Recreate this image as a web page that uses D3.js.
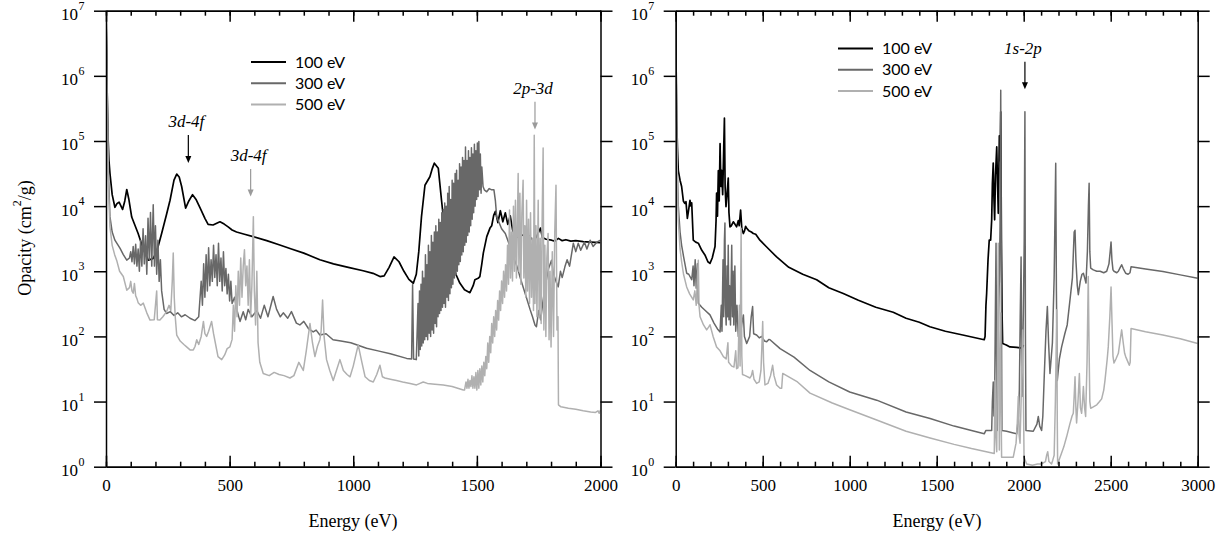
<!doctype html>
<html>
  <head>
    <meta charset="utf-8">
    <title>Opacity vs energy</title>
    <script src="https://cdnjs.cloudflare.com/ajax/libs/d3/7.8.5/d3.min.js"></script>
    <style>
      body { margin: 0; background: #fff; }
      svg { display: block; }
      .tick-label { font-family: "Liberation Serif", "Times New Roman", serif; font-size: 17px; }
      .title { font-family: "Liberation Serif", "Times New Roman", serif; font-size: 18px; }
      .legend { font-family: Lato, "Open Sans", sans-serif; font-size: 16px; }
      .note { font-family: "Liberation Serif", serif; font-style: italic; font-size: 17px; }
    </style>
  </head>
  <body>
    <div id="chart"></div>
    <script>
      // temperatures (legend) and line colours
      const temps = ['100 eV', '300 eV', '500 eV'];
      const colors = ['#000000', '#686868', '#b0b0b0'];

      // axis ticks
      const decades = [1, 1e1, 1e2, 1e3, 1e4, 1e5, 1e6, 1e7];
      const exponents = ['0', '1', '2', '3', '4', '5', '6', '7'];
      const leftMajor = [0, 500, 1000, 1500, 2000];
      const rightMajor = [0, 500, 1000, 1500, 2000, 2500, 3000];

      // ---- left panel, [energy eV, opacity cm2/g] ----
      const left100 = [[0,1e7],[2,3e6],[5,5e5],[8,1.2e5],[12,5e4],[16,3.2e4],[25,1.5e4],[36,9600],[45,1.1e4],[53,1.15e4],[67,8900],[76,1.2e4],[84,1.8e4],[92,1.3e4],[104,6800],[130,3800],[150,2240],[171,1480],[191,1580],[205,2000],[225,3800],[245,7500],[259,1.23e4],[275,2.5e4],[286,3.1e4],[296,2.8e4],[306,2.0e4],[322,9300],[335,1.2e4],[350,1.5e4],[365,1.25e4],[380,9500],[400,6500],[413,5250],[433,5130],[450,5500],[461,5750],[478,5300],[494,4800],[510,4300],[528,4000],[560,3700],[595,3400],[650,2950],[700,2550],[750,2200],[800,1900],[865,1500],[920,1300],[980,1150],[1040,1020],[1080,930],[1108,830],[1125,850],[1145,1150],[1165,1660],[1185,1400],[1205,1000],[1225,750],[1243,655],[1255,900],[1265,2000],[1276,6900],[1290,2.09e4],[1310,2.82e4],[1320,3.8e4],[1328,4.57e4],[1344,3.8e4],[1357,1.23e4],[1371,3900],[1385,2200],[1398,1480],[1415,900],[1431,660],[1450,520],[1472,470],[1485,600],[1492,740],[1505,780],[1512,830],[1520,1300],[1526,1900],[1540,3400],[1553,4600],[1560,5000],[1568,7200],[1575,8300],[1585,5600],[1595,8500],[1605,5750],[1615,7900],[1625,5250],[1635,7100],[1645,4200],[1660,3300],[1675,3500],[1687,3600],[1700,3200],[1712,3450],[1725,3050],[1740,3300],[1757,4600],[1765,3300],[1780,3100],[1802,3000],[1815,2900],[1830,3200],[1845,2950],[1860,3050],[1880,2900],[1900,2950],[1930,2850],[1960,2800],[2000,2750]];

      const left300 = [[0,1e7],[3,2e6],[6,3e5],[10,3e4],[16,6900],[25,4000],[36,3000],[57,2240],[70,1800],[84,1480],[95,1600],[100,2000],[105,1400],[110,2400],[115,1300],[120,2600],[125,1200],[130,2200],[135,1000],[140,3000],[145,1200],[150,4500],[155,1300],[160,3500],[165,900],[170,6500],[175,1500],[180,8000],[185,1200],[191,1.05e4],[196,1200],[200,5000],[205,900],[210,3000],[215,700],[220,1500],[225,500],[235,260],[245,225],[260,240],[275,210],[290,230],[305,200],[320,215],[340,190],[360,175],[375,200],[385,700],[390,300],[395,1300],[400,400],[405,1800],[410,500],[415,2300],[420,600],[425,1500],[430,700],[435,2500],[440,800],[445,1800],[450,600],[455,2700],[460,700],[465,1600],[470,500],[475,2000],[480,600],[485,1100],[490,450],[495,900],[500,350],[505,700],[510,320],[520,400],[530,250],[542,170],[555,240],[565,180],[575,260],[590,200],[610,250],[625,190],[640,300],[655,200],[676,410],[690,260],[705,200],[717,230],[735,190],[750,240],[770,160],[784,150],[800,170],[820,130],[838,117],[850,125],[865,105],[890,110],[918,89],[950,85],[990,80],[1054,66],[1100,60],[1150,54],[1216,46],[1236,45],[1240,620],[1244,45],[1255,44],
        [1262,320],[1265,50],[1268,500],[1271,63],[1274,630],[1277,71],[1280,1000],[1283,79],[1286,790],[1289,89],[1292,1800],[1295,100],[1298,1260],[1301,89],[1304,2500],[1307,112],[1310,2000],[1313,100],[1316,3550],[1319,126],[1322,2800],[1325,112],[1328,4000],[1331,158],[1334,5000],[1337,141],[1340,4000],[1343,200],[1346,6300],[1349,224],[1352,5600],[1355,250],[1358,7900],[1361,280],[1364,8900],[1367,320],[1370,11200],[1373,280],[1376,10000],[1379,400],[1382,15800],[1385,355],[1388,20000],[1391,450],[1394,12600],[1397,560],[1400,25000],[1403,630],[1406,22400],[1409,790],[1412,31600],[1415,890],[1418,35500],[1421,1000],[1424,25000],[1427,1260],[1430,44700],[1433,1410],[1436,40000],[1439,1780],[1442,56000],[1445,2000],[1448,50000],[1451,2500],[1454,81000],[1457,2800],[1460,50000],[1463,3550],[1466,71000],[1469,4000],[1472,56000],[1475,5000],[1478,79000],[1481,6300],[1484,63000],[1487,7900],[1490,89000],[1493,10000],[1496,71000],[1499,12600],[1502,93000],[1505,14100],[1508,98000],[1511,17800],[1514,63000],[1517,15800],[1520,40000],[1525,20000],[1530,17800],[1540,16600],[1550,18600],[1560,17800],[1569,17800],
        [1575,1.2e4],[1580,6900],[1600,4500],[1615,3800],[1634,2400],[1650,1600],[1665,1100],[1675,800],[1687,575],[1700,400],[1715,260],[1725,200],[1735,150],[1741,141],[1750,250],[1758,180],[1768,363],[1780,700],[1790,1100],[1802,1480],[1810,900],[1820,700],[1829,575],[1838,1000],[1845,800],[1856,1170],[1865,1500],[1875,1200],[1890,2690],[1900,2000],[1910,2700],[1920,2100],[1935,2800],[1945,2200],[1958,3000],[1970,2400],[1985,2800],[2000,3000]];

      const left500 = [[0,1e7],[3,1.5e6],[6,2e5],[10,2e4],[16,4800],[25,2500],[35,1800],[43,1480],[55,1000],[70,830],[84,513],[95,560],[100,700],[105,500],[110,460],[115,650],[120,420],[125,380],[130,330],[140,300],[151,324],[165,230],[178,178],[195,180],[205,500],[208,180],[218,178],[230,200],[245,240],[255,300],[262,250],[268,700],[272,1900],[276,400],[280,200],[286,105],[300,85],[315,75],[326,69],[340,62],[353,62],[360,70],[367,89],[375,75],[385,100],[394,170],[400,110],[407,100],[415,120],[427,170],[435,110],[445,70],[453,49],[468,44],[480,52],[490,65],[501,69],[510,90],[515,300],[520,120],[525,600],[530,200],[535,1000],[540,300],[545,1600],[550,400],[555,1200],[560,2140],[565,600],[570,1200],[575,300],[580,1500],[585,200],[590,600],[596,6900],[600,500],[605,150],[610,1000],[615,80],[622,40],[636,27],[660,25],[680,28],[700,26],[720,25],[744,23],[760,25],[780,40],[798,30],[810,60],[825,158],[835,80],[845,49],[855,70],[865,89],[870,120],[876,363],[882,100],[892,44],[905,30],[919,21],[932,30],[946,44],[960,30],[975,26],[987,24],[1000,35],[1020,74],[1035,40],[1048,24],[1065,21],[1081,20],[1095,26],[1108,36],[1118,24],[1128,23],[1150,22],[1175,21],[1200,20],[1230,19],[1256,18],[1270,19],[1283,20],[1300,19],[1330,18.5],[1364,18],[1400,17],[1445,15],
        [1450,15],[1456,20],[1460,16],[1464,22],[1468,16],[1472,21],[1476,17],[1480,25],[1484,16],[1488,24],[1492,16],[1496,28],[1500,15],[1504,30],[1508,16],[1512,32],[1516,18],[1520,35],[1524,20],[1528,40],[1532,25],[1536,49],[1540,32],[1544,79],[1548,40],[1552,100],[1556,56],[1560,158],[1564,79],[1568,200],[1572,100],[1576,250],[1580,126],[1584,355],[1588,178],[1592,500],[1596,250],[1600,710],[1604,320],[1608,1000],[1612,400],[1616,1260],[1620,500],[1624,2500],[1628,630],[1632,8700],[1636,790],[1640,4000],[1644,710],[1648,10000],[1652,1000],[1656,12300],[1660,790],[1664,6300],[1667,31600],[1670,1000],[1674,15800],[1678,630],[1682,7900],[1687,25000],[1690,790],[1694,5000],[1698,400],[1701,12300],[1705,500],[1709,6300],[1713,320],[1717,7900],[1721,400],[1725,3200],[1729,250],[1732,123000],[1735,320],[1739,5000],[1743,200],[1748,12300],[1752,200],[1756,3200],[1760,158],[1764,6300],[1768,78000],[1771,126],[1775,2500],[1779,100],[1783,1600],[1788,3800],[1792,89],[1796,1000],[1800,69],[1805,2000],[1810,100],[1815,4000],[1820,21000],[1824,126],[1828,200],[1830,8.9],[1840,8.3],[1870,7.9],[1900,7.6],[1930,7.2],[1960,6.9],[1980,6.8],[1990,7.2],[1995,6.6],[2000,7.4]];

      // ---- right panel ----
      const right100 = [[0,1e7],[3,1e6],[6,2e5],[10,8e4],[15,3.5e4],[25,2.5e4],[34,2e4],[44,1.2e4],[52,1.1e4],[59,1.17e4],[67,6500],[75,9000],[82,1.23e4],[88,1e4],[92,1.12e4],[101,3000],[115,2800],[130,2700],[150,2100],[168,1780],[185,1400],[197,1320],[210,1600],[226,2400],[232,6000],[235,1.58e4],[240,7000],[245,3.5e4],[250,1.2e4],[255,9.1e4],[260,2e4],[264,3.55e4],[270,1.5e4],[275,6e4],[280,2.24e5],[284,2e4],[289,9800],[295,1.5e4],[302,2.7e4],[306,8000],[312,4800],[320,5000],[331,5750],[340,5300],[350,4800],[360,6000],[365,5000],[373,8700],[380,4500],[389,3800],[396,4200],[402,4900],[408,4570],[420,4200],[435,4000],[446,3800],[460,3700],[484,3000],[520,2400],[580,1660],[650,1150],[730,900],[810,740],[880,560],[963,457],[1050,360],[1150,280],[1250,235],[1324,190],[1400,165],[1461,141],[1550,120],[1650,105],[1773,89],[1778,100],[1783,300],[1787,457],[1795,1500],[1802,3020],[1810,3000],[1816,6170],[1820,2.2e4],[1825,4.57e4],[1829,1.3e4],[1833,6170],[1838,3e4],[1845,8.1e4],[1850,2e4],[1854,7760],[1860,1.2e5],[1865,5e4],[1868,2.8e5],[1872,3000],[1876,200],[1879,78],[1900,74],[1921,69],[1960,68],[1990,66],[1996,70],[1998,74]];

      const right300 = [[0,1e7],[3,1e6],[6,1e5],[10,3e4],[15,1e4],[25,4000],[34,2500],[45,1700],[63,933],[75,900],[92,741],[100,1200],[105,600],[112,1500],[118,550],[125,1300],[130,324],[150,280],[170,250],[197,214],[220,160],[240,130],[255,117],[262,300],[266,120],[272,1500],[276,200],[280,3000],[283,5500],[286,300],[290,150],[295,1200],[298,200],[302,2500],[306,180],[310,600],[315,150],[322,2500],[326,200],[330,1000],[334,150],[340,1200],[345,120],[352,300],[360,100],[370,89],[379,150],[389,214],[395,100],[408,78],[425,100],[434,200],[442,288],[448,110],[465,105],[480,95],[494,100],[510,85],[523,83],[535,90],[542,89],[600,65],[680,48],[772,30],[880,20],[1000,14],[1155,10.5],[1324,6.9],[1462,5.5],[1600,4.2],[1700,3.6],[1773,3.2],[1783,3.6],[1816,3.6],[1820,10],[1825,20],[1829,6],[1833,10.5],[1837,200],[1841,2690],[1844,50],[1848,3.6],[1853,100],[1860,741],[1864,5000],[1868,6e5],[1872,300],[1875,3.6],[1902,3.5],[1940,3.3],[1960,3.2],[1970,6],[1975,15],[1980,200],[1985,1660],[1988,60],[1990,12],[1994,50],[1998,229],[2003,3000],[2007,2.8e5],[2010,100],[2013,3.6],[2055,3.5],[2076,4.5],[2084,5.9],[2092,4.2],[2103,3.6],[2110,6],[2118,24],[2128,120],[2136,288],[2143,80],[2151,27],[2165,80],[2175,800],[2184,4.57e4],[2188,500],[2193,21],[2205,45],[2218,69],[2237,112],[2250,150],[2266,363],[2280,800],[2290,4000],[2295,4270],[2300,1500],[2308,600],[2314,437],[2325,700],[2335,900],[2343,933],[2350,800],[2358,661],[2366,2000],[2372,1e4],[2376,2.24e4],[2380,2000],[2385,1120],[2400,1050],[2420,1000],[2439,1000],[2460,950],[2477,1000],[2490,1300],[2497,2000],[2502,2820],[2507,1500],[2513,1050],[2519,1000],[2535,950],[2544,1000],[2555,1150],[2563,1260],[2572,1100],[2586,933],[2600,900],[2611,950],[2617,1170],[2700,1080],[2800,990],[2900,880],[3000,780]];

      const right500 = [[0,1e7],[3,1.5e6],[6,1.5e5],[10,2e4],[15,6000],[25,2200],[34,1400],[45,900],[63,575],[80,450],[101,363],[110,500],[118,300],[125,800],[130,1480],[134,300],[140,200],[160,150],[178,126],[190,140],[197,151],[215,100],[235,69],[255,60],[274,49],[290,45],[300,80],[304,40],[322,35],[335,34],[345,60],[350,32],[358,33],[366,300],[370,35],[376,4570],[380,50],[384,26],[400,25],[427,23],[435,25],[442,30],[450,22],[465,19],[480,20],[490,30],[496,80],[500,170],[505,40],[513,18],[530,19],[545,25],[557,36],[565,25],[580,18],[600,16],[609,16],[615,27],[700,20],[772,13.5],[900,9.5],[1000,7.5],[1155,5.2],[1324,3.5],[1462,2.75],[1600,2.2],[1700,1.9],[1831,1.6],[1835,21],[1840,3],[1845,1.7],[1850,100],[1854,2690],[1857,50],[1860,1.8],[1864,30],[1868,229],[1870,10],[1873,1.4],[1940,1.4],[1956,2.3],[1962,4],[1969,12],[1974,3],[1979,2.3],[1985,10],[1990,50],[1994,126],[1998,15],[2002,1.4],[2017,1.1],[2050,1.05],[2080,1.1],[2101,1.1],[2125,1.2],[2132,1.5],[2138,1.7],[2145,1.2],[2160,1.1],[2167,1.26],[2175,1.5],[2182,10],[2186,50],[2190,257],[2193,5],[2195,1.1],[2209,1.4],[2230,2],[2247,2.9],[2265,4.5],[2278,6],[2285,6.6],[2290,12],[2295,24],[2300,8],[2304,4.7],[2312,10],[2320,27],[2326,8],[2333,6.6],[2338,10],[2343,17],[2350,8],[2356,5.9],[2364,40],[2371,832],[2376,60],[2380,10],[2385,7.9],[2400,8.3],[2420,8.9],[2436,10],[2448,11],[2460,15],[2467,21],[2480,45],[2486,69],[2495,200],[2502,575],[2508,150],[2513,50],[2519,39],[2530,45],[2544,55],[2555,90],[2563,126],[2572,80],[2580,55],[2586,49],[2600,40],[2607,36],[2612,40],[2617,132],[2700,118],[2800,105],[2900,92],[3000,78]];

      // annotations: label, energy of arrow, arrow top / tip opacity, colour index
      const leftNotes = [
        { label: '3d-4f', e: 333, top: 1.24e5, tip: 4.6e4, c: 0 },
        { label: '3d-4f', e: 585, top: 3.7e4, tip: 1.4e4, c: 3 },
        { label: '2p-3d', e: 1735, top: 4.0e5, tip: 1.5e5, c: 3 }
      ];
      const rightNotes = [
        { label: '1s-2p', e: 2007, top: 1.65e6, tip: 6.2e5, c: 0 }
      ];

      const W = 1226, H = 539;
      const yTop = 10.7, yBot = 466.7;
      const svg = d3.select('#chart').append('svg').attr('width', W).attr('height', H);
      const y = d3.scaleLog().domain([1, 1e7]).range([yBot, yTop]);

      const panels = [
        { x0: 106, x1: 600.5, max: 2000, major: leftMajor, series: [left100, left300, left500],
          legend: { x: 251, y: 62 }, notes: leftNotes, title: 353 },
        { x0: 675.7, x1: 1197.7, max: 3000, major: rightMajor, series: [right100, right300, right500],
          legend: { x: 838, y: 48.5 }, notes: rightNotes, title: 937 }
      ];

      const arrowColors = ['#000', '#686868', '#b0b0b0', '#9a9a9a'];

      panels.forEach((p, pi) => {
        const x = d3.scaleLinear().domain([0, p.max]).range([p.x0, p.x1]);
        const minor = d3.range(0, p.max + 1, 100);
        const g = svg.append('g');

        const clipId = 'clip' + pi;
        g.append('clipPath').attr('id', clipId).append('rect')
          .attr('x', p.x0).attr('y', yTop).attr('width', p.x1 - p.x0).attr('height', yBot - yTop);

        // curves: 100 eV, 300 eV, 500 eV (last on top)
        const line = d3.line().x(d => x(d[0])).y(d => y(Math.max(d[1], 0.8)));
        p.series.forEach((s, i) => {
          g.append('path').datum(s)
            .attr('clip-path', `url(#${clipId})`)
            .attr('d', line)
            .attr('fill', 'none')
            .attr('stroke', colors[i])
            .attr('stroke-width', i === 0 ? 1.7 : 1.5)
            .attr('stroke-linejoin', 'round');
        });

        // x axes, ticks pointing inward
        const styleAxis = sel => {
          sel.selectAll('path, line').attr('stroke', '#000').attr('stroke-width', 1.5);
        };
        g.append('g').attr('transform', `translate(0,${yBot})`)
          .call(d3.axisBottom(x).tickValues(minor).tickSize(-5).tickSizeOuter(0).tickFormat(''))
          .call(styleAxis);
        const bottomMajor = g.append('g').attr('transform', `translate(0,${yBot})`)
          .call(d3.axisBottom(x).tickValues(p.major).tickSize(-11).tickSizeOuter(0).tickPadding(12).tickFormat(d3.format('d')))
          .call(styleAxis);
        bottomMajor.selectAll('text').attr('class', 'tick-label').attr('font-family', null).attr('font-size', null).attr('fill', '#000');
        bottomMajor.attr('font-family', null).attr('font-size', null);
        g.append('g').attr('transform', `translate(0,${yTop})`)
          .call(d3.axisTop(x).tickValues(minor).tickSize(-5).tickSizeOuter(0).tickFormat(''))
          .call(styleAxis);
        g.append('g').attr('transform', `translate(0,${yTop})`)
          .call(d3.axisTop(x).tickValues(p.major).tickSize(-11).tickSizeOuter(0).tickFormat(''))
          .call(styleAxis);

        // y axes, ticks pointing outward
        g.append('g').attr('transform', `translate(${p.x0},0)`)
          .call(d3.axisLeft(y).tickValues(decades).tickSize(12).tickSizeOuter(0).tickFormat(''))
          .call(styleAxis);
        g.append('g').attr('transform', `translate(${p.x1},0)`)
          .call(d3.axisRight(y).tickValues(decades).tickSize(12).tickSizeOuter(0).tickFormat(''))
          .call(styleAxis);

        // y tick labels 10^n
        decades.forEach((d, i) => {
          g.append('text').attr('class', 'tick-label')
            .attr('x', p.x0 - 28).attr('y', y(d) + 9.5)
            .attr('text-anchor', 'end').text('10');
          g.append('text').attr('class', 'tick-label')
            .attr('x', p.x0 - 27.5).attr('y', y(d) - 1)
            .style('font-size', '12px').text(exponents[i]);
        });

        // x title
        g.append('text').attr('class', 'title')
          .attr('x', p.title).attr('y', 527)
          .attr('text-anchor', 'middle').text('Energy (eV)');

        // legend
        temps.forEach((t, i) => {
          const ly = p.legend.y + i * 21.3;
          g.append('line')
            .attr('x1', p.legend.x).attr('x2', p.legend.x + 35)
            .attr('y1', ly).attr('y2', ly)
            .attr('stroke', colors[i]).attr('stroke-width', 2);
          g.append('text').attr('class', 'legend')
            .attr('x', p.legend.x + 44).attr('y', ly + 5.5)
            .text(t);
        });

        // annotations with arrows
        p.notes.forEach(n => {
          const ax = x(n.e), ay0 = y(n.top), ay1 = y(n.tip);
          const col = arrowColors[n.c];
          g.append('line')
            .attr('x1', ax).attr('x2', ax).attr('y1', ay0).attr('y2', ay1 - 6)
            .attr('stroke', col).attr('stroke-width', 1.2);
          g.append('path')
            .attr('d', `M${ax - 3},${ay1 - 7}L${ax + 3},${ay1 - 7}L${ax},${ay1}Z`)
            .attr('fill', col);
          g.append('text').attr('class', 'note')
            .attr('x', ax - 2).attr('y', ay0 - 8)
            .attr('text-anchor', 'middle').text(n.label);
        });
      });

      // y title
      const yt = svg.append('text').attr('class', 'title')
        .attr('transform', 'translate(31,238) rotate(-90)')
        .attr('text-anchor', 'middle');
      yt.append('tspan').text('Opacity (cm');
      yt.append('tspan').attr('dy', -10).style('font-size', '12px').text('2');
      yt.append('tspan').attr('dy', 10).text('/g)');
    </script>
  </body>
</html>
